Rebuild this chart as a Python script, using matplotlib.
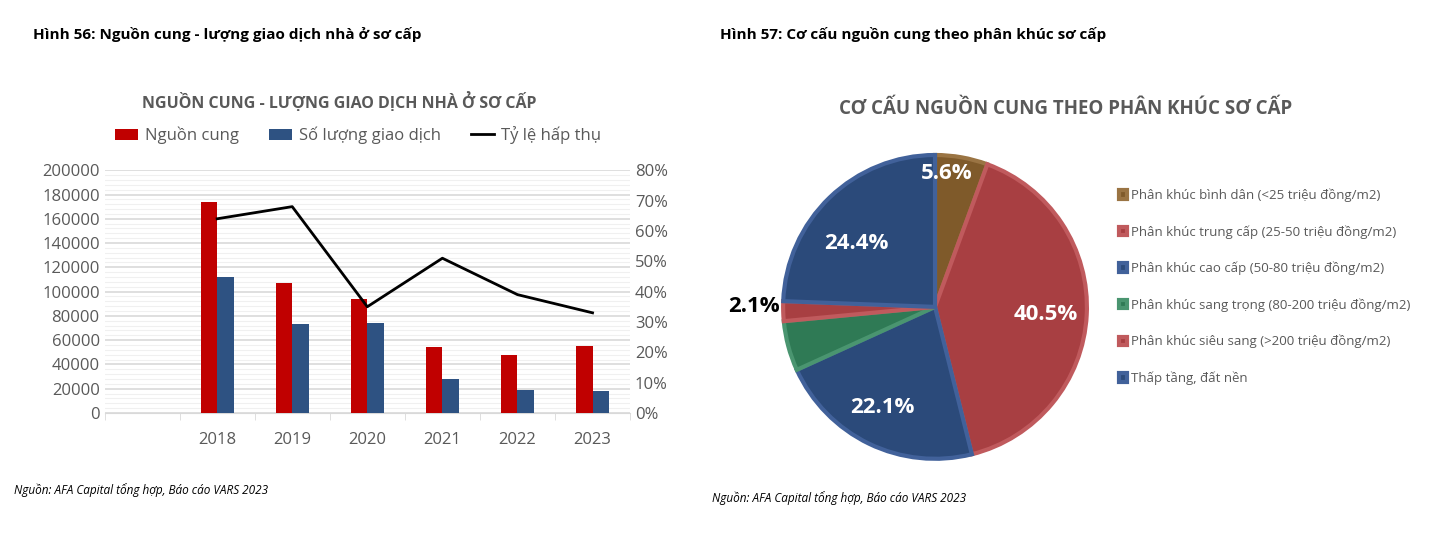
import matplotlib
matplotlib.use("Agg")
import matplotlib.pyplot as plt
import numpy as np
from matplotlib.ticker import MultipleLocator, FuncFormatter

plt.rcParams["font.family"] = "Open Sans"

years = ["", "2018", "2019", "2020", "2021", "2022", "2023"]
supply = [np.nan, 174000, 107000, 94000, 54000, 48000, 55000]
transactions = [np.nan, 112000, 73000, 74000, 28000, 19000, 18000]
absorption = [np.nan, 64, 68, 35, 51, 39, 33]

seg_labels = ["Phân khúc bình dân (<25 triệu đồng/m2)",
              "Phân khúc trung cấp (25-50 triệu đồng/m2)",
              "Phân khúc cao cấp (50-80 triệu đồng/m2)",
              "Phân khúc sang trọng (80-200 triệu đồng/m2)",
              "Phân khúc siêu sang (>200 triệu đồng/m2)",
              "Thấp tầng, đất nền"]
seg_values = [5.6, 40.5, 22.1, 5.3, 2.1, 24.4]
seg_colors = ["#7f5a2a", "#a83f42", "#2b4a7a", "#2f7a55", "#a83f42", "#2b4a7a"]
seg_edges = ["#9a7443", "#c05a5d", "#41619a", "#4a9570", "#c05a5d", "#41619a"]

fig = plt.figure(figsize=(14.32, 5.37), dpi=100)
grey = "#595959"

fig.text(0.023, 0.935, "Hình 56: Nguồn cung - lượng giao dịch nhà ở sơ cấp", fontsize=11, fontweight="bold", va="center")
fig.text(0.503, 0.935, "Hình 57: Cơ cấu nguồn cung theo phân khúc sơ cấp", fontsize=11, fontweight="bold", va="center")
fig.text(0.01, 0.088, "Nguồn: AFA Capital tổng hợp, Báo cáo VARS 2023", fontsize=8.5, style="italic", va="center")
fig.text(0.497, 0.073, "Nguồn: AFA Capital tổng hợp, Báo cáo VARS 2023", fontsize=8.5, style="italic", va="center")

# Left chart
ax = fig.add_axes([0.073, 0.231, 0.367, 0.452])
x = np.arange(len(years))
w = 0.22
ax.bar(x - w/2, supply, w, color="#c00000", label="Nguồn cung", zorder=3)
ax.bar(x + w/2, transactions, w, color="#2e5282", label="Số lượng giao dịch", zorder=3)
ax.set_ylim(0, 200000)
ax.set_xlim(-0.5, len(years) - 0.5)
ax.yaxis.set_major_locator(MultipleLocator(20000))
ax.yaxis.set_minor_locator(MultipleLocator(4000))
ax.grid(axis="y", which="major", color="#d9d9d9", lw=1.2, zorder=0)
ax.grid(axis="y", which="minor", color="#f0f0f0", lw=0.8, zorder=0)
ax.set_xticks(x)
ax.set_xticklabels(years)
ax.set_xticks(np.arange(len(years) + 1) - 0.5, minor=True)
ax.tick_params(axis="x", which="major", length=0, pad=14, labelsize=12, labelcolor=grey)
ax.tick_params(axis="x", which="minor", length=5, color="#d9d9d9")
ax.tick_params(axis="y", which="both", length=0, labelsize=12, labelcolor=grey)
for s in ["top", "right", "left"]:
    ax.spines[s].set_visible(False)
ax.spines["bottom"].set_color("#d9d9d9")

ax2 = ax.twinx()
ax2.plot(x, absorption, color="black", lw=2, label="Tỷ lệ hấp thụ", zorder=4)
ax2.set_ylim(0, 80)
ax2.yaxis.set_major_locator(MultipleLocator(10))
ax2.yaxis.set_major_formatter(FuncFormatter(lambda v, p: f"{v:.0f}%"))
ax2.tick_params(axis="y", length=0, labelsize=12, labelcolor=grey)
for s in ax2.spines.values():
    s.set_visible(False)

fig.text(0.237, 0.81, "NGUỒN CUNG - LƯỢNG GIAO DỊCH NHÀ Ở SƠ CẤP", fontsize=11.5, fontweight="bold", color=grey, ha="center", va="center")
h1, l1 = ax.get_legend_handles_labels()
h2, l2 = ax2.get_legend_handles_labels()
fig.legend(h1 + h2, l1 + l2, loc="center", bbox_to_anchor=(0.25, 0.748), ncol=3, frameon=False,
           fontsize=12, labelcolor=grey, handlelength=1.4, handletextpad=0.4, columnspacing=1.8)

# Pie
axp = fig.add_axes([0.5447, 0.140, 0.2165, 0.577])
wedges, _ = axp.pie(seg_values, colors=seg_colors, startangle=90, counterclock=False,
                    wedgeprops=dict(linewidth=3))
for wd, ec in zip(wedges, seg_edges):
    wd.set_edgecolor(ec)
axp.set_xlim(-1.02, 1.02)
axp.set_ylim(-1.02, 1.02)
axp.set_aspect("equal")
lbl_pos = {0: (0.08, 0.88), 1: (0.73, -0.05), 2: (-0.35, -0.66), 5: (-0.52, 0.42)}
for i, (lx, ly) in lbl_pos.items():
    axp.text(lx, ly, f"{seg_values[i]}%", color="white", fontsize=16, fontweight="bold", ha="center", va="center")
axp.text(-1.02, 0.0, f"{seg_values[4]}%", color="black", fontsize=16, fontweight="bold", ha="right", va="center")

fig.text(0.744, 0.797, "CƠ CẤU NGUỒN CUNG THEO PHÂN KHÚC SƠ CẤP", fontsize=13.5, fontweight="bold", color=grey, ha="center", va="center")
fig.legend(wedges, seg_labels, loc="center left", bbox_to_anchor=(0.773, 0.466), frameon=False,
           fontsize=9.5, labelcolor=grey, handlelength=0.6, handleheight=0.6, handletextpad=0.3,
           labelspacing=1.75)

fig.savefig("out.png", dpi=100)
